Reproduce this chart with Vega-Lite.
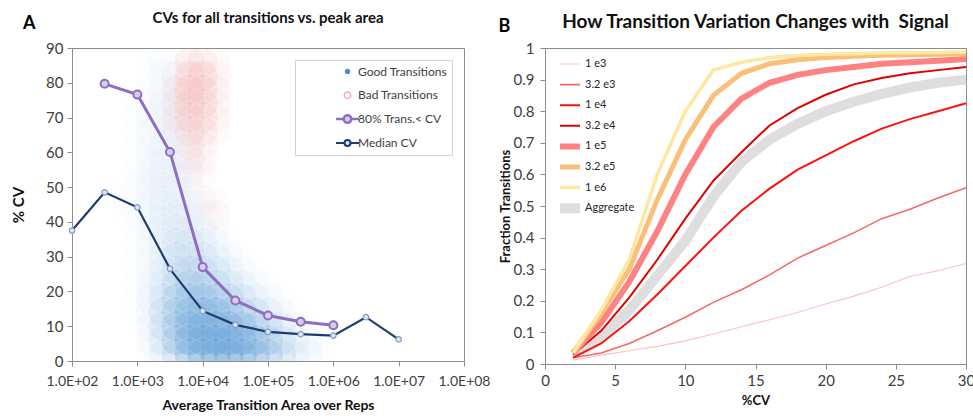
{
  "$schema": "https://vega.github.io/schema/vega-lite/v6.json",
  "background": "white",
  "padding": {"left": 11, "top": 10, "right": 0, "bottom": 0},
  "config": {
    "font": "Lato",
    "view": {"stroke": "#8c8c8c", "strokeWidth": 1},
    "axis": {"grid": false, "domainColor": "#8c8c8c", "tickColor": "#8c8c8c", "labelColor": "#404040", "labelFontSize": 15, "titleFontSize": 14, "titleFontWeight": "bold", "titleColor": "#111111", "tickSize": 5, "labelPadding": 4, "labelOverlap": false, "labelFlush": false},
    "title": {"fontWeight": "bold", "color": "#111111"}
  },
  "resolve": {
    "scale": {"stroke": "independent", "strokeWidth": "independent", "shape": "independent", "fill": "independent", "opacity": "independent", "color": "independent"},
    "legend": {"stroke": "independent", "strokeWidth": "independent", "shape": "independent", "fill": "independent", "opacity": "independent", "color": "independent"}
  },
  "datasets": {
    "cloud": [
      {"area":1585,"cv":2,"d":0.05},{"area":2512,"cv":2,"d":0.2},{"area":3981,"cv":2,"d":0.45},{"area":6310,"cv":2,"d":0.75},{"area":10000,"cv":2,"d":0.95},{"area":15849,"cv":2,"d":1},{"area":25119,"cv":2,"d":1},{"area":39811,"cv":2,"d":0.9},{"area":63096,"cv":2,"d":0.75},{"area":100000,"cv":2,"d":0.55},{"area":158489,"cv":2,"d":0.35},{"area":251189,"cv":2,"d":0.2},{"area":398107,"cv":2,"d":0.1},{"area":630957,"cv":2,"d":0.04},
      {"area":1585,"cv":6,"d":0.08},{"area":2512,"cv":6,"d":0.25},{"area":3981,"cv":6,"d":0.55},{"area":6310,"cv":6,"d":0.85},{"area":10000,"cv":6,"d":1},{"area":15849,"cv":6,"d":1},{"area":25119,"cv":6,"d":1},{"area":39811,"cv":6,"d":0.9},{"area":63096,"cv":6,"d":0.7},{"area":100000,"cv":6,"d":0.5},{"area":158489,"cv":6,"d":0.3},{"area":251189,"cv":6,"d":0.15},{"area":398107,"cv":6,"d":0.07},{"area":630957,"cv":6,"d":0.03},
      {"area":1585,"cv":10,"d":0.1},{"area":2512,"cv":10,"d":0.3},{"area":3981,"cv":10,"d":0.6},{"area":6310,"cv":10,"d":0.85},{"area":10000,"cv":10,"d":0.95},{"area":15849,"cv":10,"d":0.95},{"area":25119,"cv":10,"d":0.85},{"area":39811,"cv":10,"d":0.7},{"area":63096,"cv":10,"d":0.5},{"area":100000,"cv":10,"d":0.32},{"area":158489,"cv":10,"d":0.18},{"area":251189,"cv":10,"d":0.08},{"area":398107,"cv":10,"d":0.03},
      {"area":1000,"cv":14,"d":0.03},{"area":1585,"cv":14,"d":0.1},{"area":2512,"cv":14,"d":0.3},{"area":3981,"cv":14,"d":0.55},{"area":6310,"cv":14,"d":0.75},{"area":10000,"cv":14,"d":0.8},{"area":15849,"cv":14,"d":0.75},{"area":25119,"cv":14,"d":0.62},{"area":39811,"cv":14,"d":0.45},{"area":63096,"cv":14,"d":0.3},{"area":100000,"cv":14,"d":0.18},{"area":158489,"cv":14,"d":0.08},{"area":251189,"cv":14,"d":0.03},
      {"area":1000,"cv":18,"d":0.03},{"area":1585,"cv":18,"d":0.1},{"area":2512,"cv":18,"d":0.28},{"area":3981,"cv":18,"d":0.48},{"area":6310,"cv":18,"d":0.6},{"area":10000,"cv":18,"d":0.62},{"area":15849,"cv":18,"d":0.52},{"area":25119,"cv":18,"d":0.4},{"area":39811,"cv":18,"d":0.27},{"area":63096,"cv":18,"d":0.16},{"area":100000,"cv":18,"d":0.08},{"area":158489,"cv":18,"d":0.03},
      {"area":1000,"cv":22,"d":0.03},{"area":1585,"cv":22,"d":0.08},{"area":2512,"cv":22,"d":0.22},{"area":3981,"cv":22,"d":0.38},{"area":6310,"cv":22,"d":0.48},{"area":10000,"cv":22,"d":0.46},{"area":15849,"cv":22,"d":0.36},{"area":25119,"cv":22,"d":0.24},{"area":39811,"cv":22,"d":0.14},{"area":63096,"cv":22,"d":0.07},{"area":100000,"cv":22,"d":0.03},
      {"area":1000,"cv":26,"d":0.03},{"area":1585,"cv":26,"d":0.07},{"area":2512,"cv":26,"d":0.18},{"area":3981,"cv":26,"d":0.3},{"area":6310,"cv":26,"d":0.36},{"area":10000,"cv":26,"d":0.33},{"area":15849,"cv":26,"d":0.24},{"area":25119,"cv":26,"d":0.14},{"area":39811,"cv":26,"d":0.07},{"area":63096,"cv":26,"d":0.03},
      {"area":1000,"cv":30,"d":0.03},{"area":1585,"cv":30,"d":0.07},{"area":2512,"cv":30,"d":0.15},{"area":3981,"cv":30,"d":0.24},{"area":6310,"cv":30,"d":0.27},{"area":10000,"cv":30,"d":0.23},{"area":15849,"cv":30,"d":0.15},{"area":25119,"cv":30,"d":0.08},{"area":39811,"cv":30,"d":0.04},
      {"area":1000,"cv":34,"d":0.03},{"area":1585,"cv":34,"d":0.07},{"area":2512,"cv":34,"d":0.14},{"area":3981,"cv":34,"d":0.2},{"area":6310,"cv":34,"d":0.2},{"area":10000,"cv":34,"d":0.15},{"area":15849,"cv":34,"d":0.08},{"area":25119,"cv":34,"d":0.04},
      {"area":1000,"cv":38,"d":0.03},{"area":1585,"cv":38,"d":0.08},{"area":2512,"cv":38,"d":0.13},{"area":3981,"cv":38,"d":0.17},{"area":6310,"cv":38,"d":0.15},{"area":10000,"cv":38,"d":0.1},{"area":15849,"cv":38,"d":0.05},
      {"area":631,"cv":42,"d":0.02},{"area":1000,"cv":42,"d":0.04},{"area":1585,"cv":42,"d":0.09},{"area":2512,"cv":42,"d":0.13},{"area":3981,"cv":42,"d":0.14},{"area":6310,"cv":42,"d":0.11},{"area":10000,"cv":42,"d":0.06},
      {"area":631,"cv":46,"d":0.02},{"area":1000,"cv":46,"d":0.04},{"area":1585,"cv":46,"d":0.09},{"area":2512,"cv":46,"d":0.12},{"area":3981,"cv":46,"d":0.12},{"area":6310,"cv":46,"d":0.08},{"area":10000,"cv":46,"d":0.04},
      {"area":631,"cv":50,"d":0.02},{"area":1000,"cv":50,"d":0.04},{"area":1585,"cv":50,"d":0.08},{"area":2512,"cv":50,"d":0.11},{"area":3981,"cv":50,"d":0.1},{"area":6310,"cv":50,"d":0.06},
      {"area":1000,"cv":54,"d":0.04},{"area":1585,"cv":54,"d":0.08},{"area":2512,"cv":54,"d":0.1},{"area":3981,"cv":54,"d":0.09},{"area":6310,"cv":54,"d":0.05},
      {"area":1000,"cv":58,"d":0.03},{"area":1585,"cv":58,"d":0.07},{"area":2512,"cv":58,"d":0.1},{"area":3981,"cv":58,"d":0.08},{"area":6310,"cv":58,"d":0.04},
      {"area":1000,"cv":62,"d":0.03},{"area":1585,"cv":62,"d":0.07},{"area":2512,"cv":62,"d":0.09},{"area":3981,"cv":62,"d":0.07},{"area":6310,"cv":62,"d":0.04},
      {"area":1000,"cv":66,"d":0.03},{"area":1585,"cv":66,"d":0.06},{"area":2512,"cv":66,"d":0.09},{"area":3981,"cv":66,"d":0.07},{"area":6310,"cv":66,"d":0.03},
      {"area":1000,"cv":70,"d":0.03},{"area":1585,"cv":70,"d":0.06},{"area":2512,"cv":70,"d":0.08},{"area":3981,"cv":70,"d":0.06},
      {"area":1000,"cv":74,"d":0.03},{"area":1585,"cv":74,"d":0.05},{"area":2512,"cv":74,"d":0.08},{"area":3981,"cv":74,"d":0.06},
      {"area":1585,"cv":78,"d":0.05},{"area":2512,"cv":78,"d":0.07},{"area":3981,"cv":78,"d":0.05},
      {"area":1585,"cv":82,"d":0.04},{"area":2512,"cv":82,"d":0.06},{"area":3981,"cv":82,"d":0.04},
      {"area":1585,"cv":86,"d":0.03},{"area":2512,"cv":86,"d":0.05},{"area":3981,"cv":86,"d":0.03}
    ],
    "bad": [
      {"area":6310,"cv":86,"d":0.3},{"area":10000,"cv":86,"d":0.25},{"area":15849,"cv":86,"d":0.12},
      {"area":3981,"cv":82,"d":0.15},{"area":6310,"cv":82,"d":0.38},{"area":10000,"cv":82,"d":0.35},{"area":15849,"cv":82,"d":0.18},
      {"area":3981,"cv":78,"d":0.2},{"area":6310,"cv":78,"d":0.45},{"area":10000,"cv":78,"d":0.38},{"area":15849,"cv":78,"d":0.2},
      {"area":3981,"cv":74,"d":0.2},{"area":6310,"cv":74,"d":0.42},{"area":10000,"cv":74,"d":0.35},{"area":15849,"cv":74,"d":0.18},
      {"area":3981,"cv":70,"d":0.18},{"area":6310,"cv":70,"d":0.38},{"area":10000,"cv":70,"d":0.3},{"area":15849,"cv":70,"d":0.15},
      {"area":3981,"cv":66,"d":0.12},{"area":6310,"cv":66,"d":0.3},{"area":10000,"cv":66,"d":0.25},{"area":15849,"cv":66,"d":0.12},
      {"area":6310,"cv":62,"d":0.2},{"area":10000,"cv":62,"d":0.18},
      {"area":6310,"cv":58,"d":0.15},{"area":10000,"cv":58,"d":0.12},
      {"area":6310,"cv":54,"d":0.1},{"area":10000,"cv":54,"d":0.1},
      {"area":10000,"cv":46,"d":0.1},{"area":15849,"cv":46,"d":0.1},
      {"area":15849,"cv":42,"d":0.12}
    ],
    "lines": [
      {"series":"Median CV","area":100,"cv":37.5},{"series":"Median CV","area":316,"cv":48.5},{"series":"Median CV","area":1000,"cv":44.2},{"series":"Median CV","area":3162,"cv":26.5},{"series":"Median CV","area":10000,"cv":14.4},{"series":"Median CV","area":31623,"cv":10.4},{"series":"Median CV","area":100000,"cv":8.4},{"series":"Median CV","area":316228,"cv":7.7},{"series":"Median CV","area":1000000,"cv":7.3},{"series":"Median CV","area":3162278,"cv":12.6},{"series":"Median CV","area":10000000,"cv":6.2},
      {"series":"80% Trans.< CV","area":316,"cv":79.7},{"series":"80% Trans.< CV","area":1000,"cv":76.6},{"series":"80% Trans.< CV","area":3162,"cv":60.1},{"series":"80% Trans.< CV","area":10000,"cv":27},{"series":"80% Trans.< CV","area":31623,"cv":17.4},{"series":"80% Trans.< CV","area":100000,"cv":13.1},{"series":"80% Trans.< CV","area":316228,"cv":11.3},{"series":"80% Trans.< CV","area":1000000,"cv":10.3}
    ],
    "legendA": [
      {"type":"Good Transitions"},{"type":"Bad Transitions"},{"type":"80% Trans.< CV"},{"type":"Median CV"}
    ],
    "curves": [
      {"signal":"Aggregate","cv":2,"frac":0.03},{"signal":"Aggregate","cv":4,"frac":0.085},{"signal":"Aggregate","cv":6,"frac":0.17},{"signal":"Aggregate","cv":8,"frac":0.28},{"signal":"Aggregate","cv":10,"frac":0.39},{"signal":"Aggregate","cv":12,"frac":0.53},{"signal":"Aggregate","cv":14,"frac":0.64},{"signal":"Aggregate","cv":16,"frac":0.71},{"signal":"Aggregate","cv":18,"frac":0.76},{"signal":"Aggregate","cv":20,"frac":0.8},{"signal":"Aggregate","cv":22,"frac":0.83},{"signal":"Aggregate","cv":24,"frac":0.855},{"signal":"Aggregate","cv":26,"frac":0.875},{"signal":"Aggregate","cv":28,"frac":0.89},{"signal":"Aggregate","cv":30,"frac":0.9},
      {"signal":"1 e3","cv":2,"frac":0.012},{"signal":"1 e3","cv":4,"frac":0.028},{"signal":"1 e3","cv":6,"frac":0.042},{"signal":"1 e3","cv":8,"frac":0.056},{"signal":"1 e3","cv":10,"frac":0.073},{"signal":"1 e3","cv":12,"frac":0.095},{"signal":"1 e3","cv":14,"frac":0.118},{"signal":"1 e3","cv":16,"frac":0.14},{"signal":"1 e3","cv":18,"frac":0.163},{"signal":"1 e3","cv":20,"frac":0.19},{"signal":"1 e3","cv":22,"frac":0.215},{"signal":"1 e3","cv":24,"frac":0.243},{"signal":"1 e3","cv":26,"frac":0.277},{"signal":"1 e3","cv":28,"frac":0.295},{"signal":"1 e3","cv":30,"frac":0.318},
      {"signal":"3.2 e3","cv":2,"frac":0.02},{"signal":"3.2 e3","cv":4,"frac":0.035},{"signal":"3.2 e3","cv":6,"frac":0.065},{"signal":"3.2 e3","cv":8,"frac":0.105},{"signal":"3.2 e3","cv":10,"frac":0.148},{"signal":"3.2 e3","cv":12,"frac":0.195},{"signal":"3.2 e3","cv":14,"frac":0.235},{"signal":"3.2 e3","cv":16,"frac":0.282},{"signal":"3.2 e3","cv":18,"frac":0.335},{"signal":"3.2 e3","cv":20,"frac":0.375},{"signal":"3.2 e3","cv":22,"frac":0.415},{"signal":"3.2 e3","cv":24,"frac":0.46},{"signal":"3.2 e3","cv":26,"frac":0.49},{"signal":"3.2 e3","cv":28,"frac":0.525},{"signal":"3.2 e3","cv":30,"frac":0.558},
      {"signal":"1 e4","cv":2,"frac":0.02},{"signal":"1 e4","cv":4,"frac":0.065},{"signal":"1 e4","cv":6,"frac":0.135},{"signal":"1 e4","cv":8,"frac":0.22},{"signal":"1 e4","cv":10,"frac":0.31},{"signal":"1 e4","cv":12,"frac":0.4},{"signal":"1 e4","cv":14,"frac":0.485},{"signal":"1 e4","cv":16,"frac":0.555},{"signal":"1 e4","cv":18,"frac":0.615},{"signal":"1 e4","cv":20,"frac":0.66},{"signal":"1 e4","cv":22,"frac":0.705},{"signal":"1 e4","cv":24,"frac":0.745},{"signal":"1 e4","cv":26,"frac":0.775},{"signal":"1 e4","cv":28,"frac":0.8},{"signal":"1 e4","cv":30,"frac":0.825},
      {"signal":"3.2 e4","cv":2,"frac":0.03},{"signal":"3.2 e4","cv":4,"frac":0.105},{"signal":"3.2 e4","cv":6,"frac":0.21},{"signal":"3.2 e4","cv":8,"frac":0.33},{"signal":"3.2 e4","cv":10,"frac":0.46},{"signal":"3.2 e4","cv":12,"frac":0.58},{"signal":"3.2 e4","cv":14,"frac":0.67},{"signal":"3.2 e4","cv":16,"frac":0.755},{"signal":"3.2 e4","cv":18,"frac":0.81},{"signal":"3.2 e4","cv":20,"frac":0.852},{"signal":"3.2 e4","cv":22,"frac":0.885},{"signal":"3.2 e4","cv":24,"frac":0.905},{"signal":"3.2 e4","cv":26,"frac":0.92},{"signal":"3.2 e4","cv":28,"frac":0.93},{"signal":"3.2 e4","cv":30,"frac":0.94},
      {"signal":"1 e5","cv":2,"frac":0.035},{"signal":"1 e5","cv":4,"frac":0.13},{"signal":"1 e5","cv":6,"frac":0.26},{"signal":"1 e5","cv":8,"frac":0.42},{"signal":"1 e5","cv":10,"frac":0.6},{"signal":"1 e5","cv":12,"frac":0.75},{"signal":"1 e5","cv":14,"frac":0.84},{"signal":"1 e5","cv":16,"frac":0.89},{"signal":"1 e5","cv":18,"frac":0.915},{"signal":"1 e5","cv":20,"frac":0.93},{"signal":"1 e5","cv":22,"frac":0.94},{"signal":"1 e5","cv":24,"frac":0.95},{"signal":"1 e5","cv":26,"frac":0.955},{"signal":"1 e5","cv":28,"frac":0.96},{"signal":"1 e5","cv":30,"frac":0.965},
      {"signal":"3.2 e5","cv":2,"frac":0.035},{"signal":"3.2 e5","cv":4,"frac":0.16},{"signal":"3.2 e5","cv":6,"frac":0.3},{"signal":"3.2 e5","cv":8,"frac":0.52},{"signal":"3.2 e5","cv":10,"frac":0.71},{"signal":"3.2 e5","cv":12,"frac":0.85},{"signal":"3.2 e5","cv":14,"frac":0.92},{"signal":"3.2 e5","cv":16,"frac":0.95},{"signal":"3.2 e5","cv":18,"frac":0.963},{"signal":"3.2 e5","cv":20,"frac":0.97},{"signal":"3.2 e5","cv":22,"frac":0.974},{"signal":"3.2 e5","cv":24,"frac":0.977},{"signal":"3.2 e5","cv":26,"frac":0.979},{"signal":"3.2 e5","cv":28,"frac":0.98},{"signal":"3.2 e5","cv":30,"frac":0.982},
      {"signal":"1 e6","cv":2,"frac":0.035},{"signal":"1 e6","cv":4,"frac":0.17},{"signal":"1 e6","cv":6,"frac":0.33},{"signal":"1 e6","cv":8,"frac":0.6},{"signal":"1 e6","cv":10,"frac":0.8},{"signal":"1 e6","cv":12,"frac":0.93},{"signal":"1 e6","cv":14,"frac":0.955},{"signal":"1 e6","cv":16,"frac":0.97},{"signal":"1 e6","cv":18,"frac":0.976},{"signal":"1 e6","cv":20,"frac":0.98},{"signal":"1 e6","cv":22,"frac":0.982},{"signal":"1 e6","cv":24,"frac":0.984},{"signal":"1 e6","cv":26,"frac":0.985},{"signal":"1 e6","cv":28,"frac":0.986},{"signal":"1 e6","cv":30,"frac":0.987}
    ]
  },
  "spacing": 7,
  "hconcat": [
    {
      "title": {"text": "A", "anchor": "start", "frame": "bounds", "fontSize": 18, "offset": -22, "dx": 12, "color": "#000000"},
      "resolve": {
        "scale": {"stroke": "independent", "strokeWidth": "independent", "shape": "independent", "fill": "independent", "opacity": "independent", "color": "independent"},
        "legend": {"stroke": "independent", "strokeWidth": "independent", "shape": "independent", "fill": "independent", "opacity": "independent", "color": "independent"}
      },
      "hconcat": [
        {
          "width": 392,
          "height": 313,
          "title": {"text": "CVs for all transitions vs. peak area", "fontSize": 15, "frame": "group", "anchor": "middle", "offset": 15},
          "encoding": {
            "x": {"field": "area", "type": "quantitative", "scale": {"type": "log", "domain": [100, 100000000], "nice": false},
                  "axis": {"values": [100, 1000, 10000, 100000, 1000000, 10000000, 100000000], "labelExpr": "'1.0E+0' + round(log(datum.value)/LN10)", "title": "Average Transition Area over Reps", "titlePadding": 10, "labelPadding": 8, "labelFontSize": 14}},
            "y": {"field": "cv", "type": "quantitative", "scale": {"domain": [0, 90], "nice": false},
                  "axis": {"values": [0, 10, 20, 30, 40, 50, 60, 70, 80, 90], "title": "% CV", "titlePadding": 19, "titleFontSize": 15}}
          },
          "layer": [
            {
              "data": {"name": "cloud"},
              "mark": {"type": "point", "shape": "circle", "filled": true, "size": 900, "strokeWidth": 0, "clip": true, "color": "#5b9bd5"},
              "encoding": {"opacity": {"field": "d", "type": "quantitative", "scale": {"domain": [0, 1], "range": [0, 0.34]}, "legend": null}}
            },
            {
              "data": {"name": "bad"},
              "mark": {"type": "point", "shape": "circle", "filled": true, "size": 900, "strokeWidth": 0, "clip": true, "color": "#f08c8c"},
              "encoding": {"opacity": {"field": "d", "type": "quantitative", "scale": {"domain": [0, 1], "range": [0, 0.34]}, "legend": null}}
            },
            {
              "data": {"name": "lines"},
              "transform": [{"filter": "datum.series == 'Median CV'"}],
              "mark": {"type": "line", "color": "#1f3c6e", "strokeWidth": 2.2}
            },
            {
              "data": {"name": "lines"},
              "transform": [{"filter": "datum.series == 'Median CV'"}],
              "mark": {"type": "point", "shape": "circle", "filled": true, "size": 30, "color": "#dbe5f3", "stroke": "#7f9cc9", "strokeWidth": 1.2, "opacity": 1}
            },
            {
              "data": {"name": "lines"},
              "transform": [{"filter": "datum.series == '80% Trans.< CV'"}],
              "mark": {"type": "line", "color": "#8c6fc0", "strokeWidth": 3}
            },
            {
              "data": {"name": "lines"},
              "transform": [{"filter": "datum.series == '80% Trans.< CV'"}],
              "mark": {"type": "point", "shape": "circle", "filled": true, "size": 64, "color": "#d9cdea", "stroke": "#8c6fc0", "strokeWidth": 2, "opacity": 1}
            },
            {
              "data": {"name": "legendA"},
              "transform": [{"filter": "datum.type == 'none'"}],
              "mark": {"type": "point", "size": 100, "opacity": 1},
              "encoding": {
                "shape": {"field": "type", "type": "nominal",
                  "scale": {"domain": ["Good Transitions", "Bad Transitions", "80% Trans.< CV", "Median CV"],
                            "range": ["M0.55,0A0.55,0.55,0,1,1,-0.55,0A0.55,0.55,0,1,1,0.55,0", "M0.65,0A0.65,0.65,0,1,1,-0.65,0A0.65,0.65,0,1,1,0.65,0", "M-2.3,0L-0.75,0M0.75,0L2.3,0M0.75,0A0.75,0.75,0,1,1,-0.75,0A0.75,0.75,0,1,1,0.75,0", "M-2.3,0L-0.6,0M0.6,0L2.3,0M0.6,0A0.6,0.6,0,1,1,-0.6,0A0.6,0.6,0,1,1,0.6,0"]},
                  "legend": {"orient": "top-right", "offset": 12, "padding": 5, "title": null, "strokeColor": "#d0d0d0", "fillColor": "white", "labelFontSize": 12, "labelColor": "#404040", "clipHeight": 13, "rowPadding": 10.8, "symbolOffset": 41, "labelOffset": 4, "labelExpr": "datum.label + '\u00a0\u00a0\u00a0\u00a0\u00a0\u00a0\u00a0\u00a0\u00a0\u00a0\u00a0\u00a0\u00a0\u00a0\u00a0\u00a0\u00a0\u00a0\u00a0\u00a0\u00a0\u00a0\u00a0\u00a0\u00a0\u00a0\u00a0'"}},
                "fill": {"field": "type", "type": "nominal",
                  "scale": {"domain": ["Good Transitions", "Bad Transitions", "80% Trans.< CV", "Median CV"], "range": ["#4a8ad6", "#ffffff", "#d9cdea", "#dbe5f3"]},
                  "legend": {"orient": "top-right", "offset": 12, "padding": 5, "title": null, "strokeColor": "#d0d0d0", "fillColor": "white", "labelFontSize": 12, "labelColor": "#404040", "clipHeight": 13, "rowPadding": 10.8, "symbolOffset": 41, "labelOffset": 4, "labelExpr": "datum.label + '\u00a0\u00a0\u00a0\u00a0\u00a0\u00a0\u00a0\u00a0\u00a0\u00a0\u00a0\u00a0\u00a0\u00a0\u00a0\u00a0\u00a0\u00a0\u00a0\u00a0\u00a0\u00a0\u00a0\u00a0\u00a0\u00a0\u00a0'"}},
                "stroke": {"field": "type", "type": "nominal",
                  "scale": {"domain": ["Good Transitions", "Bad Transitions", "80% Trans.< CV", "Median CV"], "range": ["#4a8ad6", "#f0a0a0", "#8c6fc0", "#1f3c6e"]},
                  "legend": {"orient": "top-right", "offset": 12, "padding": 5, "title": null, "strokeColor": "#d0d0d0", "fillColor": "white", "labelFontSize": 12, "labelColor": "#404040", "clipHeight": 13, "rowPadding": 10.8, "symbolOffset": 41, "labelOffset": 4, "labelExpr": "datum.label + '\u00a0\u00a0\u00a0\u00a0\u00a0\u00a0\u00a0\u00a0\u00a0\u00a0\u00a0\u00a0\u00a0\u00a0\u00a0\u00a0\u00a0\u00a0\u00a0\u00a0\u00a0\u00a0\u00a0\u00a0\u00a0\u00a0\u00a0'"}},
                "strokeWidth": {"field": "type", "type": "nominal",
                  "scale": {"type": "ordinal", "domain": ["Good Transitions", "Bad Transitions", "80% Trans.< CV", "Median CV"], "range": [0, 1.2, 2.5, 2]},
                  "legend": {"orient": "top-right", "offset": 12, "padding": 5, "title": null, "strokeColor": "#d0d0d0", "fillColor": "white", "labelFontSize": 12, "labelColor": "#404040", "clipHeight": 13, "rowPadding": 10.8, "symbolOffset": 41, "labelOffset": 4, "labelExpr": "datum.label + '\u00a0\u00a0\u00a0\u00a0\u00a0\u00a0\u00a0\u00a0\u00a0\u00a0\u00a0\u00a0\u00a0\u00a0\u00a0\u00a0\u00a0\u00a0\u00a0\u00a0\u00a0\u00a0\u00a0\u00a0\u00a0\u00a0\u00a0'"}}
              }
            }
          ]
        }
      ]
    },
    {
      "title": {"text": "B", "anchor": "start", "frame": "bounds", "fontSize": 18, "offset": -23, "dx": 0, "color": "#000000"},
      "resolve": {
        "scale": {"stroke": "independent", "strokeWidth": "independent"},
        "legend": {"stroke": "independent", "strokeWidth": "independent"}
      },
      "hconcat": [
        {
          "width": 421,
          "height": 316,
          "title": {"text": "How Transition Variation Changes with \u00a0Signal", "fontSize": 19, "frame": "group", "anchor": "middle", "offset": 9},
          "data": {"name": "curves"},
          "mark": {"type": "line"},
          "encoding": {
            "x": {"field": "cv", "type": "quantitative", "scale": {"domain": [0, 30], "nice": false},
                  "axis": {"values": [0, 5, 10, 15, 20, 25, 30], "title": "%CV", "titlePadding": 6, "titleFontSize": 13}},
            "y": {"field": "frac", "type": "quantitative", "scale": {"domain": [0, 1], "nice": false},
                  "axis": {"values": [0, 0.1, 0.2, 0.3, 0.4, 0.5, 0.6, 0.7, 0.8, 0.9, 1], "format": "~g", "title": "Fraction Transitions", "titlePadding": 1, "titleFontSize": 13, "labelPadding": 6}},
            "stroke": {"field": "signal", "type": "nominal",
              "scale": {"domain": ["1 e3", "3.2 e3", "1 e4", "3.2 e4", "1 e5", "3.2 e5", "1 e6", "Aggregate"], "range": ["#f9c4c4", "#f46a6a", "#ff1010", "#e00000", "#ff8282", "#fbbf78", "#fde8a3", "#dedede"]},
              "legend": {"orient": "top-left", "offset": 10, "padding": 0, "title": null, "symbolType": "stroke", "symbolSize": 400, "labelFontSize": 11, "labelColor": "#262626", "clipHeight": 12, "rowPadding": 8.6, "labelOffset": 0}},
            "strokeWidth": {"field": "signal", "type": "nominal",
              "scale": {"type": "ordinal", "domain": ["1 e3", "3.2 e3", "1 e4", "3.2 e4", "1 e5", "3.2 e5", "1 e6", "Aggregate"], "range": [1.2, 1.6, 2, 2, 6, 5, 3.5, 10]},
              "legend": {"orient": "top-left", "offset": 10, "padding": 0, "title": null, "symbolType": "stroke", "symbolSize": 400, "labelFontSize": 11, "labelColor": "#262626", "clipHeight": 12, "rowPadding": 8.6, "labelOffset": 0}}
          }
        }
      ]
    }
  ]
}
